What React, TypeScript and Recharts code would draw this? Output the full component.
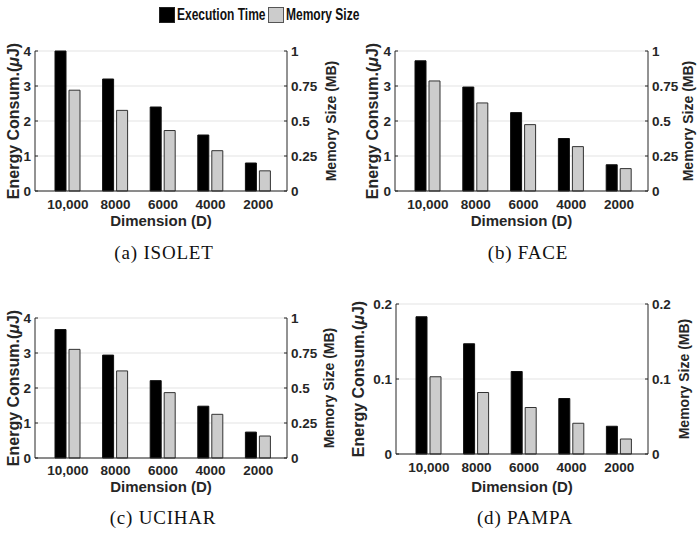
import React from "react";
import { BarChart, Bar, XAxis, YAxis, CartesianGrid } from "recharts";

const dimensions = ["10,000", "8000", "6000", "4000", "2000"];

// energy in uJ (left axis), memory in MB (right axis)
const isoletEnergy = [4.0, 3.2, 2.4, 1.6, 0.8];
const isoletMemory = [0.72, 0.576, 0.432, 0.288, 0.144];
const faceEnergy = [3.72, 2.97, 2.24, 1.5, 0.75];
const faceMemory = [0.786, 0.629, 0.474, 0.317, 0.16];
const ucihorEnergy = [3.67, 2.94, 2.21, 1.48, 0.74];
const ucihorMemory = [0.776, 0.622, 0.467, 0.312, 0.157];
const pampaEnergy = [0.183, 0.147, 0.11, 0.074, 0.037];
const pampaMemory = [0.103, 0.082, 0.062, 0.041, 0.02];

const energyTicks = [0, 1, 2, 3, 4];
const memoryTicks = [0, 0.25, 0.5, 0.75, 1];
const pampaTicks = [0, 0.1, 0.2];

const FONT = '"Liberation Sans", Arial, Helvetica, sans-serif';
const SERIF = '"Liberation Serif", "Times New Roman", Times, serif';
const INK = "#262626";
const GRAY = "#cccccc";

function rows(energy: number[], memory: number[]) {
  return dimensions.map((dim, i) => ({ dim, energy: energy[i], memory: memory[i] }));
}

interface PanelProps {
  data: { dim: string; energy: number; memory: number }[];
  frameLeft: number;
  frameTop: number;
  frameWidth: number;
  plotLeft: number;
  plotRight: number;
  plotTop: number;
  plotBottom: number;
  tickGap: number;
  labelBaseline: number;
  leftLabelX: number;
  rightLabelX: number;
  energyTicks: number[];
  memoryTicks: number[];
}

function Panel(p: PanelProps) {
  const frameHeight = p.labelBaseline - p.frameTop + 12;
  const bottomPad = 6;
  const xAxisHeight = p.frameTop + frameHeight - bottomPad - p.plotBottom;
  const midX = (p.plotLeft + p.plotRight) / 2 - p.frameLeft;
  const midY = (p.plotTop + p.plotBottom) / 2 - p.frameTop;
  const lx = p.leftLabelX - p.frameLeft;
  const rx = p.rightLabelX - p.frameLeft;
  const tickStyle = { fontSize: 13.5, fontWeight: 700, fill: INK, fontFamily: FONT };
  const pad = { left: 9, right: 5 };

  return (
    <div style={{ position: "absolute", left: p.frameLeft, top: p.frameTop }}>
      <BarChart
        width={p.frameWidth}
        height={frameHeight}
        data={p.data}
        barSize={11}
        barGap={3}
        margin={{ top: p.plotTop - p.frameTop, right: 0, bottom: bottomPad, left: 0 }}
      >
        <CartesianGrid vertical={false} stroke="#e3e3e3" />
        <XAxis
          dataKey="dim"
          height={xAxisHeight}
          padding={pad}
          tickLine={false}
          tickSize={0}
          tickMargin={p.tickGap}
          tick={tickStyle}
          stroke={INK}
          interval={0}
          label={() => (
            <text
              x={midX}
              y={p.labelBaseline - p.frameTop}
              textAnchor="middle"
              fontFamily={FONT}
              fontWeight={700}
              fontSize={15}
              fill={INK}
            >
              Dimension (D)
            </text>
          )}
        />
        <XAxis
          xAxisId="top"
          dataKey="dim"
          orientation="top"
          height={0}
          padding={pad}
          tick={false}
          tickSize={-3}
          stroke={INK}
          interval={0}
        />
        <YAxis
          width={p.plotLeft - p.frameLeft}
          domain={[p.energyTicks[0], p.energyTicks[p.energyTicks.length - 1]]}
          ticks={p.energyTicks}
          tickSize={-3}
          tickMargin={7}
          tick={tickStyle}
          stroke={INK}
          label={() => (
            <text
              x={lx}
              y={midY}
              dy="0.36em"
              transform={`rotate(-90 ${lx} ${midY})`}
              textAnchor="middle"
              fontFamily={FONT}
              fontWeight={700}
              fontSize={16}
              fill={INK}
            >
              Energy Consum.(<tspan fontStyle="italic">μ</tspan>J)
            </text>
          )}
        />
        <YAxis
          yAxisId="right"
          orientation="right"
          width={p.frameLeft + p.frameWidth - p.plotRight}
          domain={[p.memoryTicks[0], p.memoryTicks[p.memoryTicks.length - 1]]}
          ticks={p.memoryTicks}
          tickSize={-3}
          tickMargin={7}
          tick={tickStyle}
          stroke={INK}
          label={() => (
            <text
              x={rx}
              y={midY}
              dy="0.36em"
              transform={`rotate(-90 ${rx} ${midY})`}
              textAnchor="middle"
              fontFamily={FONT}
              fontWeight={700}
              fontSize={14}
              fill={INK}
            >
              Memory Size (MB)
            </text>
          )}
        />
        <Bar dataKey="energy" fill="#000" stroke="#111" strokeWidth={1} isAnimationActive={false} />
        <Bar
          dataKey="memory"
          yAxisId="right"
          fill={GRAY}
          stroke="#333"
          strokeWidth={1}
          isAnimationActive={false}
        />
      </BarChart>
    </div>
  );
}

function Caption({ text, center, baseline }: { text: string; center: number; baseline: number }) {
  return (
    <div
      style={{
        position: "absolute",
        left: center - 100,
        top: baseline - 16,
        width: 200,
        textAlign: "center",
        fontFamily: SERIF,
        fontSize: 19,
        lineHeight: "19px",
        letterSpacing: 0.8,
        color: "#111",
        whiteSpace: "nowrap",
      }}
    >
      {text}
    </div>
  );
}

function LegendItem({ x, swatch, border, label }: { x: number; swatch: string; border: string; label: string }) {
  return (
    <div style={{ position: "absolute", left: x, top: 6, height: 18 }}>
      <div
        style={{
          position: "absolute",
          left: 0,
          top: 1,
          width: 14,
          height: 14,
          background: swatch,
          border: `1px solid ${border}`,
        }}
      />
      <div
        style={{
          position: "absolute",
          left: 18,
          top: 1,
          fontFamily: FONT,
          fontWeight: 700,
          fontSize: 16,
          lineHeight: "16px",
          color: "#111",
          whiteSpace: "nowrap",
          transform: "scaleX(0.75)",
          transformOrigin: "left top",
        }}
      >
        {label}
      </div>
    </div>
  );
}

export default function App() {
  return (
    <div
      style={{
        position: "absolute",
        left: 0,
        top: 0,
        width: 697,
        height: 533,
        background: "#fff",
        overflow: "hidden",
      }}
    >
      <LegendItem x={159} swatch="#000" border="#222" label="Execution Time" />
      <LegendItem x={268} swatch={GRAY} border="#555" label="Memory Size" />

      <Panel
        data={rows(isoletEnergy, isoletMemory)}
        frameLeft={0}
        frameTop={30}
        frameWidth={345}
        plotLeft={35}
        plotRight={287}
        plotTop={51}
        plotBottom={191}
        tickGap={8}
        labelBaseline={226}
        leftLabelX={13}
        rightLabelX={331}
        energyTicks={energyTicks}
        memoryTicks={memoryTicks}
      />
      <Panel
        data={rows(faceEnergy, faceMemory)}
        frameLeft={350}
        frameTop={30}
        frameWidth={347}
        plotLeft={395}
        plotRight={648}
        plotTop={51}
        plotBottom={191}
        tickGap={8}
        labelBaseline={226}
        leftLabelX={372}
        rightLabelX={688}
        energyTicks={energyTicks}
        memoryTicks={memoryTicks}
      />
      <Panel
        data={rows(ucihorEnergy, ucihorMemory)}
        frameLeft={0}
        frameTop={290}
        frameWidth={345}
        plotLeft={35}
        plotRight={287}
        plotTop={318}
        plotBottom={458}
        tickGap={7}
        labelBaseline={492}
        leftLabelX={13}
        rightLabelX={329}
        energyTicks={energyTicks}
        memoryTicks={memoryTicks}
      />
      <Panel
        data={rows(pampaEnergy, pampaMemory)}
        frameLeft={350}
        frameTop={280}
        frameWidth={347}
        plotLeft={396}
        plotRight={648}
        plotTop={304}
        plotBottom={454}
        tickGap={8}
        labelBaseline={492}
        leftLabelX={358}
        rightLabelX={684}
        energyTicks={pampaTicks}
        memoryTicks={pampaTicks}
      />

      <Caption text="(a) ISOLET" center={164} baseline={259} />
      <Caption text="(b) FACE" center={528} baseline={259} />
      <Caption text="(c) UCIHAR" center={163} baseline={524} />
      <Caption text="(d) PAMPA" center={525} baseline={524} />
    </div>
  );
}
